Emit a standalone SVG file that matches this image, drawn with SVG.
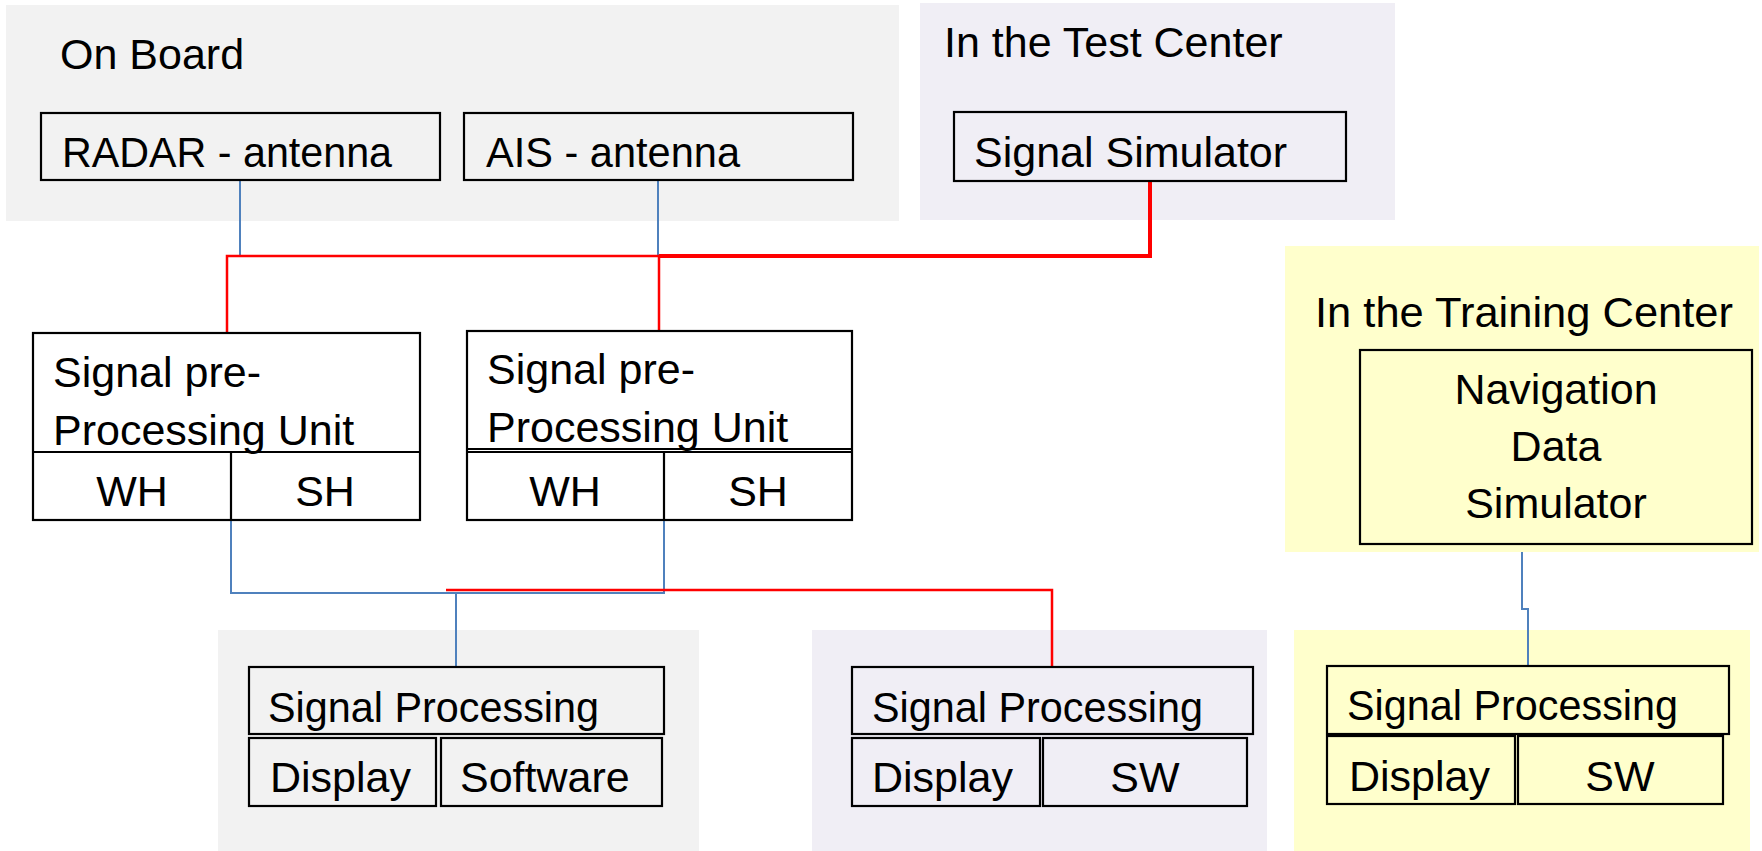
<svg xmlns="http://www.w3.org/2000/svg" width="1762" height="851" viewBox="0 0 1762 851">
  <style>
    text { font-family: "Liberation Sans", Arial, sans-serif; font-size: 43px; fill: #000; }
    .mid { text-anchor: middle; }
    .box { fill: none; stroke: #000; stroke-width: 2.2; }
    .zone-grey { fill: #f2f2f2; }
    .zone-lav { fill: #f0eef5; }
    .zone-yel { fill: #ffffcc; }
    .blue { fill: none; stroke: #4f81bd; stroke-width: 2; }
    .red { fill: none; stroke: #ff0000; stroke-width: 2.5; }
    .red-thick { fill: none; stroke: #ff0000; stroke-width: 4; }
  </style>

  <!-- location zones -->
  <g id="zones">
    <g id="zone-on-board">
      <rect class="zone-grey" x="6" y="5" width="893" height="216"/>
      <text x="60" y="69">On Board</text>
    </g>
    <g id="zone-test-center">
      <rect class="zone-lav" x="920" y="3" width="475" height="217"/>
      <text x="944" y="57">In the Test Center</text>
    </g>
    <g id="zone-training-center">
      <rect class="zone-yel" x="1285" y="246" width="474" height="306"/>
      <text x="1315" y="327" textLength="418" lengthAdjust="spacingAndGlyphs">In the Training Center</text>
    </g>
    <rect id="zone-bottom-1" class="zone-grey" x="218" y="630" width="481" height="221"/>
    <rect id="zone-bottom-2" class="zone-lav" x="812" y="630" width="455" height="221"/>
    <rect id="zone-bottom-3" class="zone-yel" x="1294" y="630" width="456" height="221"/>
  </g>

  <!-- connectors -->
  <g id="connectors">
    <path class="blue" d="M240 180 V256"/>
    <path class="blue" d="M658 180 V256"/>
    <path class="red" d="M227 333 V256 H659"/>
    <path class="red-thick" d="M659 256 H1150 V181"/>
    <path class="red" d="M659 256 V331"/>
    <path class="blue" d="M231 485 V593 H664 V485"/>
    <path class="blue" d="M456 593 V667"/>
    <path class="red" d="M446 590 H1052 V667"/>
    <path class="blue" d="M1522 552 V609 H1528 V666"/>
  </g>

  <!-- nodes -->
  <g id="radar-antenna">
    <rect class="box" x="41" y="113" width="399" height="67"/>
    <text x="62" y="167" textLength="330" lengthAdjust="spacingAndGlyphs">RADAR - antenna</text>
  </g>
  <g id="ais-antenna">
    <rect class="box" x="464" y="113" width="389" height="67"/>
    <text x="486" y="167" textLength="254" lengthAdjust="spacingAndGlyphs">AIS - antenna</text>
  </g>
  <g id="signal-simulator">
    <rect class="box" x="954" y="112" width="392" height="69"/>
    <text x="974" y="167">Signal Simulator</text>
  </g>

  <g id="preprocessing-unit-1">
    <rect class="box" x="33" y="333" width="387" height="187"/>
    <path class="box" d="M33 452 H420 M231 452 V520"/>
    <text x="53" y="387">Signal pre-</text>
    <text x="53" y="445">Processing Unit</text>
    <text class="mid" x="132" y="506">WH</text>
    <text class="mid" x="325" y="506">SH</text>
  </g>
  <g id="preprocessing-unit-2">
    <rect class="box" x="467" y="331" width="385" height="189"/>
    <path class="box" d="M467 449 H852 M467 452 H852 M664 452 V520"/>
    <text x="487" y="384">Signal pre-</text>
    <text x="487" y="442">Processing Unit</text>
    <text class="mid" x="565" y="506">WH</text>
    <text class="mid" x="758" y="506">SH</text>
  </g>

  <g id="navigation-data-simulator">
    <rect class="box" x="1360" y="350" width="392" height="194"/>
    <text class="mid" x="1556" y="404">Navigation</text>
    <text class="mid" x="1556" y="461">Data</text>
    <text class="mid" x="1556" y="518">Simulator</text>
  </g>

  <g id="signal-processing-1">
    <rect class="box" x="249" y="667" width="415" height="67"/>
    <rect class="box" x="249" y="738" width="187" height="68"/>
    <rect class="box" x="441" y="738" width="221" height="68"/>
    <text x="268" y="722" textLength="331" lengthAdjust="spacingAndGlyphs">Signal Processing</text>
    <text x="270" y="792">Display</text>
    <text x="460" y="792">Software</text>
  </g>
  <g id="signal-processing-2">
    <rect class="box" x="852" y="667" width="401" height="67"/>
    <rect class="box" x="852" y="738" width="188" height="68"/>
    <rect class="box" x="1043" y="738" width="204" height="68"/>
    <text x="872" y="722" textLength="331" lengthAdjust="spacingAndGlyphs">Signal Processing</text>
    <text x="872" y="792">Display</text>
    <text class="mid" x="1145" y="792">SW</text>
  </g>
  <g id="signal-processing-3">
    <rect class="box" x="1327" y="666" width="402" height="68"/>
    <rect class="box" x="1327" y="736" width="188" height="68"/>
    <rect class="box" x="1518" y="736" width="205" height="68"/>
    <text x="1347" y="720" textLength="331" lengthAdjust="spacingAndGlyphs">Signal Processing</text>
    <text x="1349" y="791">Display</text>
    <text class="mid" x="1620" y="791">SW</text>
  </g>
</svg>
